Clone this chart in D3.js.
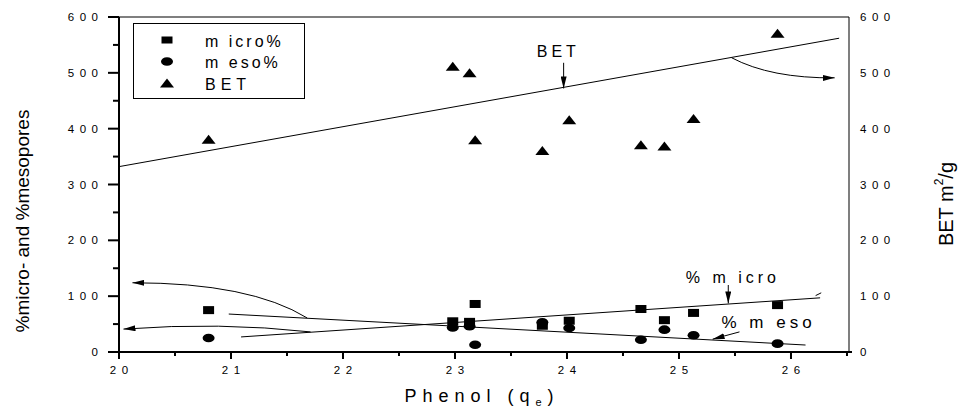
<!DOCTYPE html>
<html>
<head>
<meta charset="utf-8">
<script src="https://cdn.jsdelivr.net/npm/d3@7"></script>
<style>
  body { margin: 0; background: #fff; }
  svg { font-family: "Liberation Sans", Arial, sans-serif; }
  .lbl { font-size: 11.5px; letter-spacing: 5.5px; fill: #000; }
</style>
</head>
<body>
<script>
// phenol uptake (q_e) for each carbon sample
var phenol = [20.8, 22.98, 23.13, 23.18, 23.78, 24.02, 24.66, 24.87, 25.13, 25.88];
var micro  = [75, 55, 54, 86, 47, 56, 77, 57, 70, 84];
var meso   = [25, 44, 46, 13, 53, 43, 22, 40, 30, 15];
var bet    = [381, 512, 500, 380, 361, 416, 371, 369, 418, 571];

// linear fits, drawn as given end points
var betFit   = [[20, 332], [26.43, 562]];
var microFit = [[21.09, 27], [26.26, 97]];
var mesoFit  = [[20.98, 68], [26.13, 12.5]];

var yTicks = [0, 100, 200, 300, 400, 500, 600];
var yMinor = [50, 150, 250, 350, 450, 550];
var xTicks = [20, 21, 22, 23, 24, 25, 26];
var xMinor = [20.5, 21.5, 22.5, 23.5, 24.5, 25.5, 26.5];

window.onload = draw;

function draw(){
    var width = 961, height = 410;

    var svg = d3.select("body").append("svg")
        .attr("width", width)
        .attr("height", height);

    var x = d3.scaleLinear().domain([20, 26.518]).range([119, 849]);
    var y = d3.scaleLinear().domain([0, 600]).range([352, 17]);   // %micro / %meso
    var y2 = d3.scaleLinear().domain([0, 600]).range([352, 17]);  // BET m2/g
    var x0 = x(20), x1 = x.range()[1];

    //arrowhead marker
    svg.append("defs").append("marker")
        .attr("id", "arr")
        .attr("viewBox", "0 0 12 6")
        .attr("refX", 12).attr("refY", 3)
        .attr("markerWidth", 12).attr("markerHeight", 6)
        .attr("markerUnits", "userSpaceOnUse")
        .attr("orient", "auto")
        .append("path").attr("d", "M0,0L12,3L0,6Z").attr("fill", "#000");

    //frame: thin top and right
    svg.append("rect").attr("x", x0).attr("y", y(600) - 0.5).attr("width", x1 - x0).attr("height", 1).attr("fill", "#000");
    svg.append("rect").attr("x", x1 - 0.5).attr("y", y(600)).attr("width", 1).attr("height", y(0) - y(600)).attr("fill", "#000");

    //left axis ticks (drawn as small bars) and labels
    svg.selectAll(".ytk").data(yTicks.concat(yMinor)).enter().append("rect").attr("class", "ytk")
        .attr("x", function(d){ return x0 - (d % 100 == 0 ? 11 : 6); })
        .attr("y", function(d){ return y(d) - 1; })
        .attr("width", function(d){ return d % 100 == 0 ? 11 : 6; })
        .attr("height", 2).attr("fill", "#000");
    svg.append("rect").attr("x", x0 - 1).attr("y", y(600)).attr("width", 2).attr("height", y(0) - y(600) + 6).attr("fill", "#000");
    svg.selectAll(".ylab").data(yTicks).enter().append("text").attr("class", "lbl")
        .attr("x", x0 - 21 + 5.5).attr("y", function(d){ return y(d) + 4; })
        .attr("text-anchor", "end").text(function(d){ return d; });

    //right axis, labels only
    svg.selectAll(".y2lab").data(yTicks).enter().append("text").attr("class", "lbl")
        .attr("x", x1 + 11).attr("y", function(d){ return y2(d) + 4; })
        .text(function(d){ return d; });

    //bottom axis
    svg.selectAll(".xtk").data(xTicks.concat(xMinor)).enter().append("rect").attr("class", "xtk")
        .attr("x", function(d){ return x(d) - 1; })
        .attr("y", y(0))
        .attr("width", 2)
        .attr("height", function(d){ return d % 1 == 0 ? 7 : 4; })
        .attr("fill", "#000");
    svg.append("rect").attr("x", x0 - 1).attr("y", y(0) - 1).attr("width", x1 - x0 + 4).attr("height", 2).attr("fill", "#000");
    svg.selectAll(".xlab").data(xTicks).enter().append("text").attr("class", "lbl")
        .attr("x", function(d){ return x(d) + 2.75; }).attr("y", y(0) + 22)
        .attr("text-anchor", "middle").text(function(d){ return d; });

    //fit lines
    var line = d3.line().x(function(d){ return x(d[0]); }).y(function(d){ return y(d[1]); });
    [betFit, microFit, mesoFit].forEach(function(f){
        svg.append("path").attr("d", line(f)).attr("fill", "none")
            .attr("stroke", "#000").attr("stroke-width", 1);
    });

    //data marks
    var pts = phenol.map(function(p, i){ return {x: p, micro: micro[i], meso: meso[i], bet: bet[i]}; });

    svg.selectAll(".sq").data(pts).enter().append("rect").attr("class", "sq")
        .attr("x", function(d){ return x(d.x) - 5.5; })
        .attr("y", function(d){ return y(d.micro) - 4; })
        .attr("width", 11).attr("height", 8).attr("fill", "#000");

    svg.selectAll(".ci").data(pts).enter().append("ellipse").attr("class", "ci")
        .attr("cx", function(d){ return x(d.x); })
        .attr("cy", function(d){ return y(d.meso); })
        .attr("rx", 6).attr("ry", 4.3).attr("fill", "#000");

    var tri = function(cx, cy){ return "M" + (cx - 7) + "," + (cy + 4.5) + "L" + cx + "," + (cy - 4.5) + "L" + (cx + 7) + "," + (cy + 4.5) + "Z"; };
    svg.selectAll(".tr").data(pts).enter().append("path").attr("class", "tr")
        .attr("d", function(d){ return tri(x(d.x), y2(d.bet)); })
        .attr("fill", "#000");

    //annotations
    var ann = svg.append("g").attr("font-size", "16px").attr("letter-spacing", "4px").attr("fill", "#000");
    ann.append("text").attr("x", x(23.73)).attr("y", y(529)).text("BET");
    svg.append("line").attr("x1", x(23.97)).attr("x2", x(23.97))
        .attr("y1", y(518)).attr("y2", y(472)).attr("stroke", "#000").attr("marker-end", "url(#arr)");

    ann.append("text").attr("x", x(25.06)).attr("y", y(124)).attr("font-size", "16px").text("% m icro");
    svg.append("line").attr("x1", x(25.44)).attr("x2", x(25.44))
        .attr("y1", y(120)).attr("y2", y(87)).attr("stroke", "#000").attr("marker-end", "url(#arr)");

    ann.append("text").attr("x", x(25.38)).attr("y", y(43)).attr("font-size", "17px").text("% m eso");
    svg.append("line").attr("x1", x(25.54)).attr("x2", x(25.30))
        .attr("y1", y(36)).attr("y2", y(23)).attr("stroke", "#000").attr("marker-end", "url(#arr)");

    //curved arrows pointing to the right / left axes
    var curve = function(p0, c, p1){
        return "M" + x(p0[0]) + "," + y(p0[1]) + "Q" + x(c[0]) + "," + y(c[1]) + " " + x(p1[0]) + "," + y(p1[1]);
    };
    [[[25.47, 527], [25.82, 490], [26.39, 491]],
     [[21.68, 61], [21.17, 124], [20.12, 124]],
     [[21.71, 36], [20.90, 54], [20.04, 41]]].forEach(function(c){
        svg.append("path").attr("d", curve(c[0], c[1], c[2])).attr("fill", "none")
            .attr("stroke", "#000").attr("stroke-width", 1).attr("marker-end", "url(#arr)");
    });
    svg.append("line").attr("x1", x(26.22)).attr("x2", x(26.27))
        .attr("y1", y(101)).attr("y2", y(106)).attr("stroke", "#000");

    //legend
    var lg = svg.append("g");
    lg.append("rect").attr("x", 133.5).attr("y", 23.5).attr("width", 171).attr("height", 75)
        .attr("fill", "none").attr("stroke", "#000");
    var items = ["m icro%", "m eso%", "BET"];
    items.forEach(function(t, i){
        var cy = 40 + i * 21.5;
        if (i == 0) lg.append("rect").attr("x", 161.5).attr("y", cy - 3.5).attr("width", 11).attr("height", 7).attr("fill", "#000");
        if (i == 1) lg.append("ellipse").attr("cx", 167).attr("cy", cy).attr("rx", 6).attr("ry", 4.3).attr("fill", "#000");
        if (i == 2) lg.append("path").attr("d", tri(167, cy)).attr("fill", "#000");
        lg.append("text").attr("x", 205).attr("y", cy + 6.5).attr("font-size", "16px")
            .attr("letter-spacing", i == 2 ? "5px" : "3px").text(t);
    });

    //axis titles
    svg.append("text").attr("transform", "translate(29,221) rotate(-90)")
        .attr("text-anchor", "middle").attr("font-size", "19px").text("%micro- and %mesopores");

    var rt = svg.append("text").attr("transform", "translate(953,204) rotate(-90)")
        .attr("text-anchor", "middle").attr("font-size", "20px");
    rt.append("tspan").text("BET m");
    rt.append("tspan").attr("font-size", "12px").attr("dy", "-10").text("2");
    rt.append("tspan").attr("dy", "10").text("/g");

    var xt = svg.append("text").attr("x", 482).attr("y", 402)
        .attr("text-anchor", "middle").attr("font-size", "18px").attr("letter-spacing", "6px");
    xt.append("tspan").text("Phenol (q");
    xt.append("tspan").attr("font-size", "11px").attr("dy", "4").text("e");
    xt.append("tspan").attr("dy", "-4").text(")");
}
</script>
</body>
</html>
